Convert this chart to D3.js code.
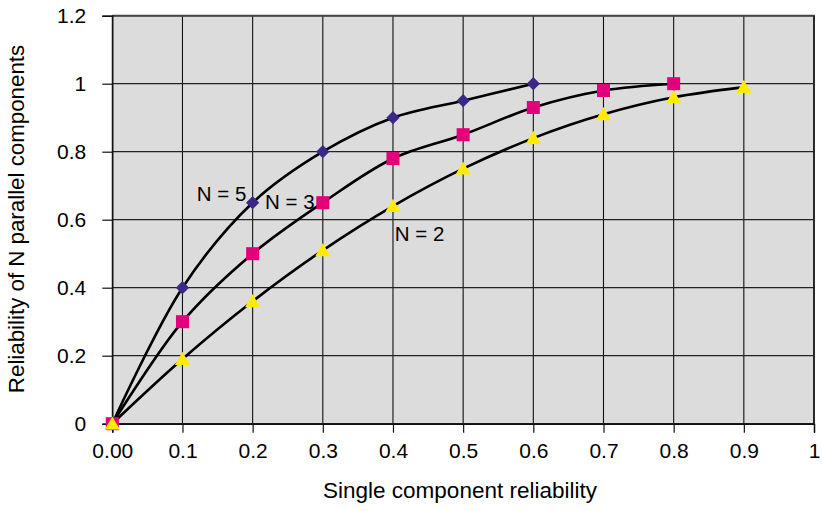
<!DOCTYPE html>
<html>
<head>
<meta charset="utf-8">
<script src="https://cdn.jsdelivr.net/npm/d3@7"></script>
<style>
  html, body { margin: 0; padding: 0; background: #fff; }
  svg { display: block; font-family: "Liberation Sans", Arial, sans-serif; }
</style>
</head>
<body>
<svg id="chart" width="822" height="511"></svg>
<script>
// ---- data ----
const xTicks = [0, 0.1, 0.2, 0.3, 0.4, 0.5, 0.6, 0.7, 0.8, 0.9, 1];
const xTickLabels = ["0.00", "0.1", "0.2", "0.3", "0.4", "0.5", "0.6", "0.7", "0.8", "0.9", "1"];
const yTicks = [0, 0.2, 0.4, 0.6, 0.8, 1, 1.2];
const yTickLabels = ["0", "0.2", "0.4", "0.6", "0.8", "1", "1.2"];

const xN5 = [0, 0.1, 0.2, 0.3, 0.4, 0.5, 0.6];
const yN5 = [0, 0.40, 0.65, 0.80, 0.90, 0.95, 1.00];
const xN3 = [0, 0.1, 0.2, 0.3, 0.4, 0.5, 0.6, 0.7, 0.8];
const yN3 = [0, 0.30, 0.50, 0.65, 0.78, 0.85, 0.93, 0.98, 1.00];
const xN2 = [0, 0.1, 0.2, 0.3, 0.4, 0.5, 0.6, 0.7, 0.8, 0.9];
const yN2 = [0, 0.19, 0.36, 0.51, 0.64, 0.75, 0.84, 0.91, 0.96, 0.99];

const seriesNames = ["N = 5", "N = 3", "N = 2"];
const labelX = [0.1205, 0.2176, 0.4025];
const labelY = [0.655, 0.631, 0.537];

const xTitle = "Single component reliability";
const yTitle = "Reliability of N parallel components";

// ---- build ----
const svg = d3.select("#chart");
const x = d3.scaleLinear().domain([0, 1]).range([112.3, 814]);
const y = d3.scaleLinear().domain([0, 1.2]).range([423.7, 15.7]);

const series = [
  { name: seriesNames[0], xs: xN5, ys: yN5, shape: d3.symbolSquare, rot: 45, color: "#3b2785", size: 88 },
  { name: seriesNames[1], xs: xN3, ys: yN3, shape: d3.symbolSquare, rot: 0, color: "#e2007b", size: 170 },
  { name: seriesNames[2], xs: xN2, ys: yN2, shape: d3.symbolTriangle, rot: 0, color: "#ffeb00", size: 100 }
];

// plot background
svg.append("rect")
  .attr("x", x(0)).attr("y", y(1.2))
  .attr("width", x(1) - x(0)).attr("height", y(0) - y(1.2))
  .attr("fill", "#dcdcdc");

// gridlines
const grid = svg.append("g");
grid.selectAll("line.v").data(xTicks).join("line")
  .attr("x1", d => x(d)).attr("x2", d => x(d))
  .attr("y1", y(1.2)).attr("y2", y(0))
  .attr("stroke", "#111").attr("stroke-width", 1.1);
grid.selectAll("line.h").data(yTicks).join("line")
  .attr("x1", x(0)).attr("x2", x(1))
  .attr("y1", d => y(d)).attr("y2", d => y(d))
  .attr("stroke", "#222").attr("stroke-width", 1.2);

// frame top/right
svg.append("line").attr("x1", x(0)).attr("x2", x(1) + 1).attr("y1", y(1.2)).attr("y2", y(1.2))
  .attr("stroke", "#444").attr("stroke-width", 2);
svg.append("line").attr("x1", x(1)).attr("x2", x(1)).attr("y1", y(1.2)).attr("y2", y(0))
  .attr("stroke", "#222").attr("stroke-width", 1.8);

// axes
const xAxis = d3.axisBottom(x).tickValues(xTicks)
  .tickFormat((d, i) => xTickLabels[i]).tickSize(9).tickPadding(10);
const gx = svg.append("g").attr("transform", `translate(0,${y(0)})`).call(xAxis);
gx.select(".domain").attr("stroke", "#111").attr("stroke-width", 1.4);
gx.selectAll(".tick line").attr("stroke", "#111").attr("stroke-width", 1.2);
gx.selectAll(".tick text").attr("font-size", 21).attr("fill", "#000")
  .attr("font-family", "Liberation Sans, Arial, sans-serif");

const yAxis = d3.axisLeft(y).tickValues(yTicks)
  .tickFormat((d, i) => yTickLabels[i]).tickSize(10).tickPadding(16);
const gy = svg.append("g").attr("transform", `translate(${x(0)},0)`).call(yAxis);
gy.select(".domain").attr("stroke", "#111").attr("stroke-width", 1.4);
gy.selectAll(".tick line").attr("stroke", "#111").attr("stroke-width", 1.2);
gy.selectAll(".tick text").attr("font-size", 21).attr("fill", "#000")
  .attr("font-family", "Liberation Sans, Arial, sans-serif");

// lines + markers
const line = d3.line().x(d => x(d[0])).y(d => y(d[1])).curve(d3.curveCatmullRom.alpha(0.5));
series.forEach(s => {
  const pts = s.xs.map((v, i) => [v, s.ys[i]]);
  svg.append("path").datum(pts).attr("d", line)
    .attr("fill", "none").attr("stroke", "#000").attr("stroke-width", 2.6);
});
series.forEach(s => {
  const pts = s.xs.map((v, i) => [v, s.ys[i]]);
  const sym = d3.symbol().type(s.shape).size(s.size);
  svg.append("g").selectAll("path").data(pts).join("path")
    .attr("transform", d => `translate(${x(d[0])},${y(d[1]) + (s.shape === d3.symbolTriangle ? 1.5 : 0)}) rotate(${s.rot})`)
    .attr("d", sym)
    .attr("fill", s.color);
});

// series labels
svg.append("g").selectAll("text").data(seriesNames).join("text")
  .attr("x", (d, i) => x(labelX[i])).attr("y", (d, i) => y(labelY[i]))
  .attr("font-size", 20.5).attr("fill", "#000")
  .text(d => d);

// axis titles
svg.append("text").attr("x", 460).attr("y", 498).attr("text-anchor", "middle")
  .attr("font-size", 22.5).attr("fill", "#000").text(xTitle);
svg.append("text").attr("transform", "translate(24,219) rotate(-90)").attr("text-anchor", "middle")
  .attr("font-size", 22.3).attr("fill", "#000").text(yTitle);
</script>
</body>
</html>
